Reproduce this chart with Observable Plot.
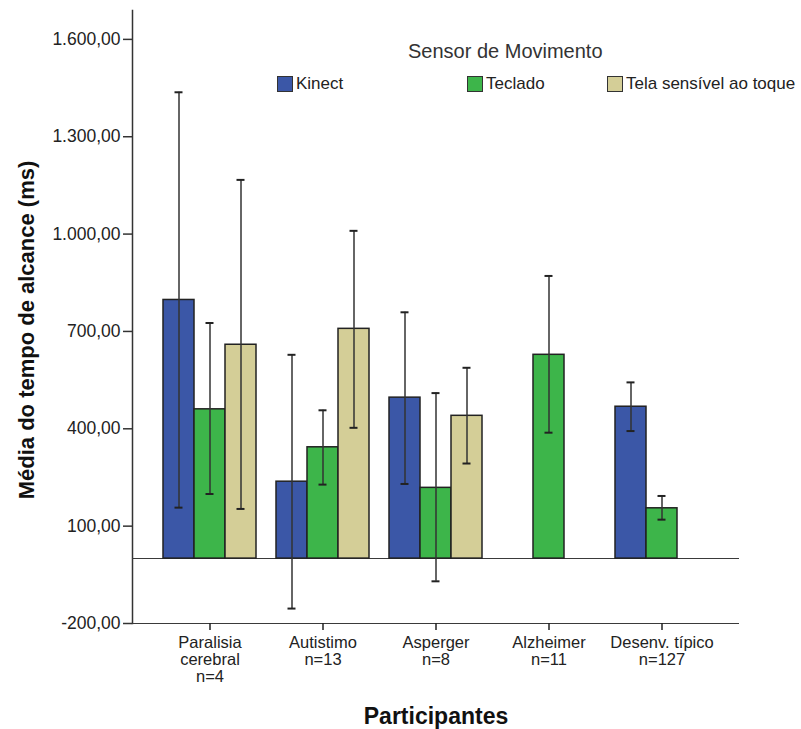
<!DOCTYPE html>
<html>
<head>
<meta charset="utf-8">
<script src="https://cdn.jsdelivr.net/npm/d3@7"></script>
<script src="https://cdn.jsdelivr.net/npm/@observablehq/plot@0.6"></script>
<style>
  body { margin: 0; background: white; }
  #wrap { position: relative; width: 801px; height: 729px; font-family: "Liberation Sans", Arial, sans-serif; color: #222; }
  #wrap svg { position: absolute; left: 0; top: 0; }
  .abs { position: absolute; white-space: nowrap; }
  .ylab { left: 27px; top: 330px; font-size: 22px; font-weight: bold; line-height: 22px; transform: translate(-50%, -50%) rotate(-90deg); color: #111; }
  .xlab { left: 436px; top: 705px; font-size: 23px; font-weight: bold; line-height: 23px; transform: translateX(-50%); color: #111; }
  .ltitle { left: 408px; top: 41px; font-size: 20px; line-height: 20px; color: #333; }
  .litem { top: 75px; display: flex; align-items: center; font-size: 17px; line-height: 17px; color: #222; }
  .sw { width: 14px; height: 14px; border: 1.5px solid #333; margin-right: 3px; }
</style>
</head>
<body>
<div id="wrap"></div>
<script>
// ---- Data ----
const groups = ["Paralisia cerebral", "Autistimo", "Asperger", "Alzheimer", "Desenv. típico"];
const groupLabels = ["Paralisia\ncerebral\nn=4", "Autistimo\nn=13", "Asperger\nn=8", "Alzheimer\nn=11", "Desenv. típico\nn=127"];
const sensors = ["Kinect", "Teclado", "Tela sensível ao toque"];
const sensorColors = ["#3b57a7", "#3db54a", "#d4ce97"];

const kinectMean = [797, 237, 496, null, 468];
const kinectLow  = [157, -154, 230, null, 393];
const kinectHigh = [1437, 628, 759, null, 543];

const tecladoMean = [460, 343, 218, 628, 155];
const tecladoLow  = [199, 228, -70, 388, 120];
const tecladoHigh = [726, 457, 510, 871, 193];

const telaMean = [659, 708, 440, null, null];
const telaLow  = [153, 403, 293, null, null];
const telaHigh = [1167, 1010, 588, null, null];

const yTicks = [-200, 100, 400, 700, 1000, 1300, 1600];
const yTickLabels = ["-200,00", "100,00", "400,00", "700,00", "1.000,00", "1.300,00", "1.600,00"];

// ---- Table ----
const series = [
  [sensors[0], kinectMean, kinectLow, kinectHigh],
  [sensors[1], tecladoMean, tecladoLow, tecladoHigh],
  [sensors[2], telaMean, telaLow, telaHigh]
];
const rows = [];
for (const [sensor, mean, lo, hi] of series) {
  groups.forEach((g, i) => {
    if (mean[i] != null) rows.push({group: g, sensor, mean: mean[i], lo: lo[i], hi: hi[i]});
  });
}

const outerGap = 31; // px between the plot edge and the first/last group

const lineStyle = {stroke: "#3a3a3a", strokeWidth: 1.5, shapeRendering: "crispEdges", insetLeft: -outerGap, insetRight: -outerGap};

const chart = Plot.plot({
  width: 801,
  height: 729,
  marginLeft: 130,
  marginRight: 59,
  marginTop: 10,
  marginBottom: 106,
  style: {fontFamily: "Liberation Sans, Arial, sans-serif", color: "#222", background: "white"},
  fx: {domain: groups, paddingInner: 0.175, paddingOuter: 0.272, label: null},
  x: {domain: sensors, padding: 0, axis: null},
  y: {domain: [-200, 1689]},
  color: {domain: sensors, range: sensorColors},
  marks: [
    Plot.frame({anchor: "left", facet: "super", dx: -outerGap, stroke: "#333", strokeWidth: 1.5}),
    Plot.ruleY([-200], lineStyle),
    Plot.ruleY([0], lineStyle),
    Plot.axisY(yTicks, {
      tickSize: 9,
      tickPadding: 3,
      dx: -outerGap,
      tickFormat: d => yTickLabels[yTicks.indexOf(d)],
      label: null,
      fontSize: 17.5,
      stroke: "#333",
      strokeWidth: 1.5
    }),
    Plot.axisFx({
      anchor: "bottom",
      tickSize: 7,
      tickPadding: 5,
      tickFormat: d => groupLabels[groups.indexOf(d)],
      label: null,
      fontSize: 16.5,
      lineHeight: 1.05,
      strokeWidth: 1.5
    }),
    Plot.barY(rows, {fx: "group", x: "sensor", y: "mean", fill: "sensor", stroke: "#222", strokeWidth: 1.5}),
    Plot.ruleX(rows, {fx: "group", x: "sensor", y1: "lo", y2: "hi", stroke: "#333", strokeWidth: 1.5}),
    Plot.tickY(rows, {fx: "group", x: "sensor", y: "lo", stroke: "#222", strokeWidth: 2, insetLeft: 11.5, insetRight: 11.5}),
    Plot.tickY(rows, {fx: "group", x: "sensor", y: "hi", stroke: "#222", strokeWidth: 2, insetLeft: 11.5, insetRight: 11.5})
  ]
});

const wrap = document.getElementById("wrap");
wrap.appendChild(chart);

function addDiv(cls, text, style) {
  const d = document.createElement("div");
  d.className = "abs " + cls;
  if (text) d.textContent = text;
  if (style) Object.assign(d.style, style);
  wrap.appendChild(d);
  return d;
}
addDiv("ylab", "Média do tempo de alcance (ms)");
addDiv("xlab", "Participantes");
addDiv("ltitle", "Sensor de Movimento");
const legendLeft = [277, 467, 607];
sensors.forEach((s, i) => {
  const item = addDiv("litem", null, {left: legendLeft[i] + "px"});
  const sw = document.createElement("div");
  sw.className = "sw";
  sw.style.background = sensorColors[i];
  item.appendChild(sw);
  const t = document.createElement("span");
  t.textContent = s;
  item.appendChild(t);
});
</script>
</body>
</html>
